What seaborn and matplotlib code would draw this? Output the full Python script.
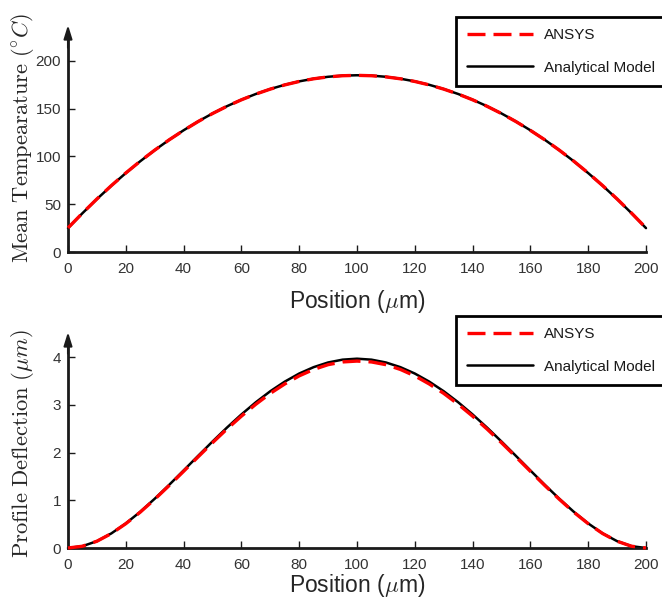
import matplotlib
matplotlib.use("Agg")
import matplotlib.pyplot as plt
import seaborn as sns

sns.set_style("ticks")
plt.rcParams["font.family"] = ["Liberation Sans", "DejaVu Sans"]
plt.rcParams["mathtext.fontset"] = "cm"

# Positions along the beam (um)
position = list(range(0, 201, 5))
x_ticks = list(range(0, 201, 20))

# Mean temperature (deg C)
temp_analytical = [25.0, 40.6, 55.4, 69.4, 82.6, 95.0, 106.6, 117.4, 127.4, 136.6,
                   145.0, 152.6, 159.4, 165.4, 170.6, 175.0, 178.6, 181.4, 183.4, 184.6,
                   185.0,
                   184.6, 183.4, 181.4, 178.6, 175.0, 170.6, 165.4, 159.4, 152.6, 145.0,
                   136.6, 127.4, 117.4, 106.6, 95.0, 82.6, 69.4, 55.4, 40.6, 25.0]
temp_ansys = [25.2, 40.7, 55.5, 69.5, 82.7, 95.1, 106.6, 117.4, 127.3, 136.5,
              144.9, 152.5, 159.3, 165.3, 170.5, 174.9, 178.5, 181.3, 183.3, 184.5,
              184.9,
              184.5, 183.3, 181.3, 178.5, 174.9, 170.5, 165.3, 159.3, 152.5, 144.9,
              136.5, 127.3, 117.4, 106.6, 95.1, 82.7, 69.5, 55.5, 40.7, 25.2]
temp_ticks = [0, 50, 100, 150, 200]

# Profile deflection (um)
defl_analytical = [0.0, 0.038, 0.143, 0.306, 0.515, 0.760, 1.033, 1.324, 1.626, 1.931,
                   2.233, 2.525, 2.801, 3.057, 3.288, 3.489, 3.659, 3.793, 3.891, 3.950,
                   3.970,
                   3.950, 3.891, 3.793, 3.659, 3.489, 3.288, 3.057, 2.801, 2.525, 2.233,
                   1.931, 1.626, 1.324, 1.033, 0.760, 0.515, 0.306, 0.143, 0.038, 0.0]
defl_ansys = [0.0, 0.037, 0.142, 0.303, 0.510, 0.752, 1.022, 1.310, 1.608, 1.910,
              2.208, 2.495, 2.765, 3.015, 3.243, 3.440, 3.610, 3.745, 3.845, 3.902,
              3.920,
              3.902, 3.845, 3.745, 3.610, 3.440, 3.243, 3.015, 2.765, 2.495, 2.208,
              1.910, 1.608, 1.310, 1.022, 0.752, 0.510, 0.303, 0.142, 0.037, 0.0]
defl_ticks = [0, 1, 2, 3, 4]

series_labels = ["ANSYS", "Analytical Model"]

AXIS_COLOR = "#1a1a1a"
TICK_LABEL_COLOR = "#333333"

W, H = 662, 599
fig = plt.figure(figsize=(W / 100, H / 100), dpi=100)


def px_rect(left, top, right, bottom):
    return [left / W, 1 - bottom / H, (right - left) / W, (bottom - top) / H]


ax_top = fig.add_axes(px_rect(68, 25, 646, 252))
ax_bot = fig.add_axes(px_rect(68, 332, 646, 548))


def draw_panel(ax, analytical, ansys, ymax, yticks, ylabel, ylabel_size,
               legend_top_px, xlabel_y, ylabel_y):
    sns.lineplot(x=position, y=analytical, ax=ax, color="black", lw=1.8,
                 label=series_labels[1], zorder=2, clip_on=False)
    sns.lineplot(x=position, y=ansys, ax=ax, color="red", lw=2.4,
                 linestyle=(0, (5.4, 2.4)), label=series_labels[0], zorder=3,
                 clip_on=False)
    ax.set_xlim(0, 200)
    ax.set_ylim(0, ymax)
    ax.set_xticks(x_ticks)
    ax.set_yticks(yticks)
    for side in ("top", "right"):
        ax.spines[side].set_visible(False)
    for side in ("left", "bottom"):
        ax.spines[side].set_linewidth(2)
        ax.spines[side].set_color(AXIS_COLOR)
    ax.spines["left"].set_bounds(0, ymax * 0.96)
    ax.annotate("", xy=(0, 1.0), xycoords="axes fraction",
                xytext=(0, 0.9), textcoords="axes fraction",
                arrowprops=dict(arrowstyle="-|>,head_length=0.8,head_width=0.25",
                                color=AXIS_COLOR, lw=1.5, shrinkA=0, shrinkB=0),
                annotation_clip=False)
    ax.tick_params(direction="in", length=5, width=1, color=AXIS_COLOR,
                   labelsize=11, labelcolor=TICK_LABEL_COLOR)
    ax.tick_params(axis="x", pad=7)
    ax.tick_params(axis="y", pad=5)

    ax.set_xlabel(r"Position ($\mu$m)", fontsize=16.5, color="#262626",
                  va="baseline")
    ax.xaxis.set_label_coords(0.5, xlabel_y)
    ax.set_ylabel(ylabel, fontsize=ylabel_size, color="#262626", va="baseline")
    ax.yaxis.set_label_coords(-0.069, ylabel_y)

    lines = {ln.get_label(): ln for ln in ax.get_lines()}
    handles = [lines[lbl] for lbl in series_labels]
    leg = ax.legend(handles, series_labels, loc="upper left",
                    bbox_to_anchor=(456 / W, 1 - legend_top_px / H),
                    bbox_transform=fig.transFigure, frameon=True, fancybox=False,
                    edgecolor="black", framealpha=1, fontsize=11,
                    handlelength=4.3, handletextpad=0.7, borderpad=0.75,
                    labelspacing=1.2, borderaxespad=0)
    leg.get_frame().set_linewidth(2)
    for t in leg.get_texts():
        t.set_color("#1a1a1a")


draw_panel(ax_top, temp_analytical, temp_ansys, 237.6, temp_ticks,
           r"$\mathrm{Mean\ Tempearature\ (^{\circ}}C\mathrm{)}$", 16.2, 17,
           -0.248, 0.502)
draw_panel(ax_bot, defl_analytical, defl_ansys, 4.53, defl_ticks,
           r"$\mathrm{Profile\ Deflection\ (}\mu m\mathrm{)}$", 16.3, 316,
           -0.204, 0.484)

fig.savefig("out.png", dpi=100)
